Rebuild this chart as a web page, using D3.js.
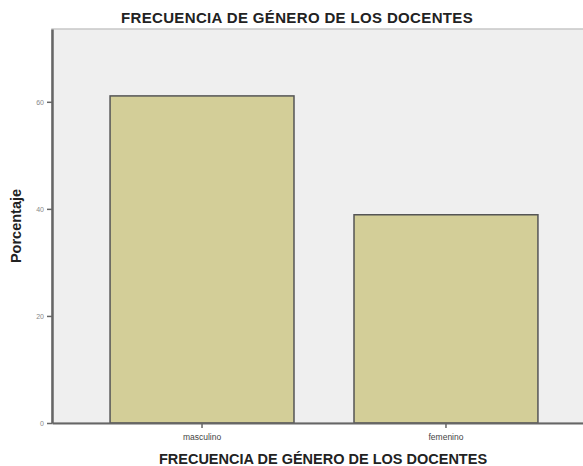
<!DOCTYPE html>
<html>
<head>
<meta charset="utf-8">
<script src="https://cdn.jsdelivr.net/npm/d3@7"></script>
<style>
  body { margin: 0; background: #fff; }
  text { font-family: Arial, "Liberation Sans", sans-serif; }
</style>
</head>
<body>
<script>
// data
var categories = ['masculino', 'femenino'];
var percentages = [61.1, 38.9];
var yTicks = [0, 20, 40, 60];

(function() {
  var width = 583, height = 466;
  var margin = {top: 29, right: -13, bottom: 43, left: 52};
  var innerW = width - margin.left - margin.right;
  var innerH = height - margin.top - margin.bottom;

  var svg = d3.select('body').append('svg')
    .attr('width', width)
    .attr('height', height);

  // chart title
  svg.append('text')
    .attr('x', 297).attr('y', 23)
    .attr('text-anchor', 'middle')
    .style('font-size', '15px')
    .style('font-weight', 'bold')
    .style('letter-spacing', '0.35px')
    .attr('fill', '#222')
    .text('FRECUENCIA DE GÉNERO DE LOS DOCENTES');

  var g = svg.append('g')
    .attr('transform', 'translate(' + margin.left + ',' + margin.top + ')');

  // plot background
  g.append('rect')
    .attr('x', 0).attr('y', 0)
    .attr('width', innerW).attr('height', innerH)
    .attr('fill', '#efefef')
    .attr('stroke', '#c8c8c8')
    .attr('stroke-width', 1.5);

  var x = d3.scaleBand()
    .domain(categories)
    .range([0, innerW])
    .paddingInner(0.246)
    .paddingOuter(0.238);

  var y = d3.scaleLinear()
    .domain([0, 73.6])
    .range([innerH, 0]);

  // bars
  g.selectAll('.bar')
    .data(percentages)
    .enter()
    .append('rect')
      .attr('class', 'bar')
      .attr('x', function(d, i) { return x(categories[i]); })
      .attr('y', function(d) { return y(d); })
      .attr('width', x.bandwidth())
      .attr('height', function(d) { return innerH - y(d); })
      .attr('fill', '#d3ce98')
      .attr('stroke', '#555')
      .attr('stroke-width', 1.5);

  // y axis
  var yAxis = g.append('g')
    .call(d3.axisLeft(y).tickValues(yTicks).tickSize(5).tickSizeOuter(0).tickPadding(3));
  yAxis.select('.domain').attr('stroke', '#666').attr('stroke-width', 2.5);
  yAxis.selectAll('.tick line').attr('stroke', '#666').attr('stroke-width', 1.5);
  yAxis.selectAll('.tick text')
    .attr('fill', '#888')
    .style('font-size', '7px')
    .style('font-family', 'Arial, sans-serif');

  // x axis
  var xAxis = g.append('g')
    .attr('transform', 'translate(0,' + innerH + ')')
    .call(d3.axisBottom(x).tickSize(5).tickSizeOuter(0).tickPadding(6));
  xAxis.select('.domain').attr('stroke', '#666').attr('stroke-width', 2);
  xAxis.selectAll('.tick line').attr('stroke', '#666').attr('stroke-width', 1.5);
  xAxis.selectAll('.tick text')
    .attr('fill', '#444')
    .style('font-size', '8.5px');

  // axis titles
  svg.append('text')
    .attr('x', 323).attr('y', 464)
    .attr('text-anchor', 'middle')
    .style('font-size', '14.5px')
    .style('font-weight', 'bold')
    .attr('fill', '#222')
    .text('FRECUENCIA DE GÉNERO DE LOS DOCENTES');

  svg.append('text')
    .attr('transform', 'translate(21,226) rotate(-90)')
    .attr('text-anchor', 'middle')
    .style('font-size', '14.5px')
    .style('font-weight', 'bold')
    .attr('fill', '#222')
    .text('Porcentaje');
})();
</script>
</body>
</html>
